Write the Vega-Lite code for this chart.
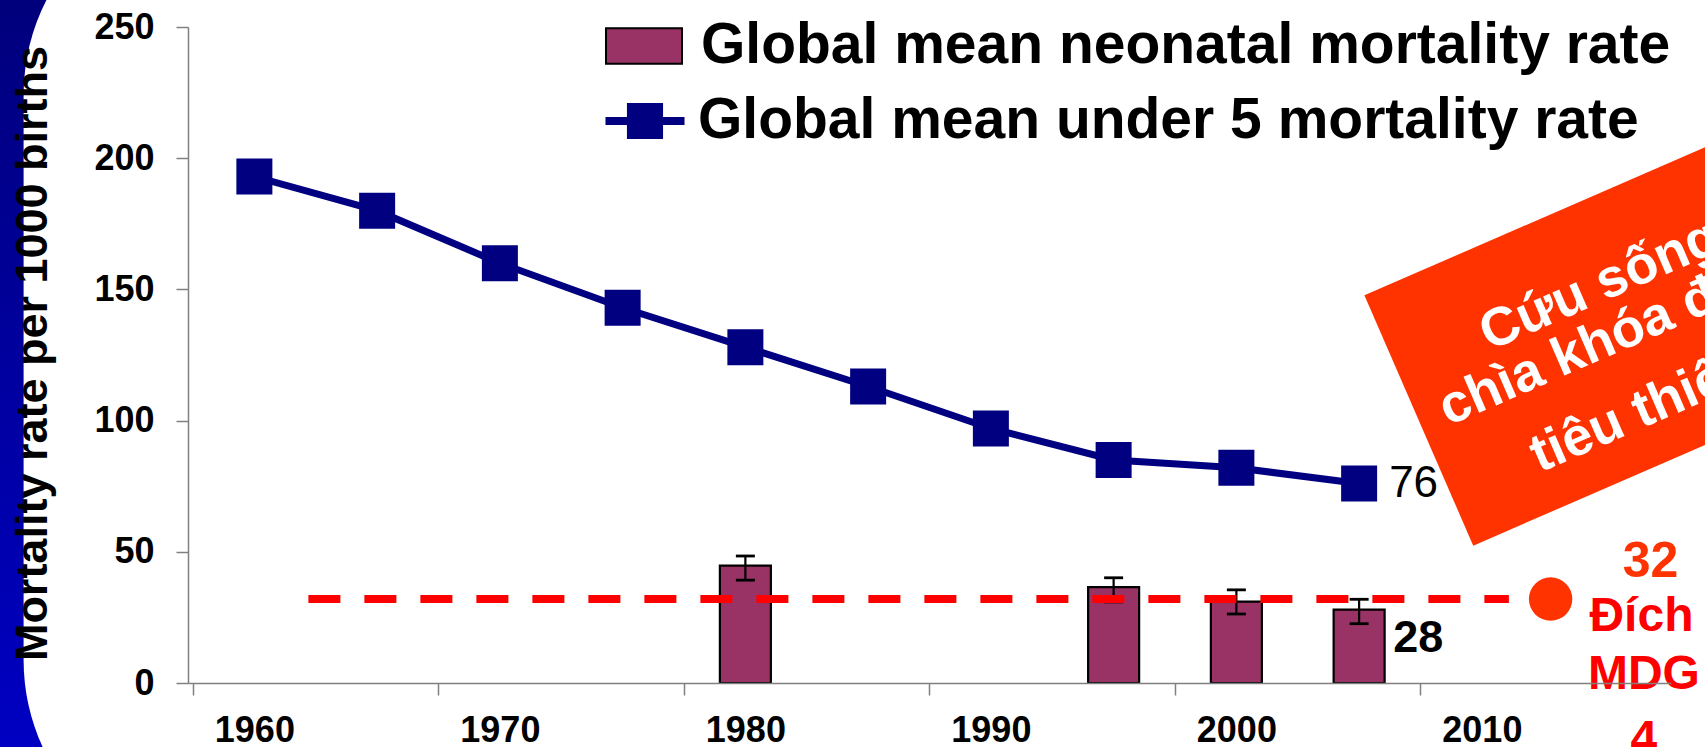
{
  "$schema": "https://vega.github.io/schema/vega-lite/v6.json",
  "width": 1483,
  "height": 656,
  "autosize": {"type": "none"},
  "padding": {"left": 188, "top": 27, "right": 34, "bottom": 64},
  "background": "white",
  "config": {
    "view": {"stroke": null},
    "font": "Liberation Sans, Arial, sans-serif",
    "axis": {
      "grid": false,
      "domainColor": "#808080",
      "domainWidth": 1.5,
      "tickColor": "#808080",
      "tickWidth": 1.5,
      "tickSize": 12,
      "labelFont": "Liberation Sans, Arial, sans-serif",
      "labelFontWeight": "bold",
      "labelFontSize": 36,
      "labelColor": "black",
      "labelFlush": false,
      "labelBound": false,
      "labelOverlap": false
    },
    "legend": {
      "orient": "none",
      "title": null,
      "padding": 0,
      "zindex": 1,
      "labelFont": "Liberation Sans, Arial, sans-serif",
      "labelFontSize": 57,
      "labelFontWeight": "bold",
      "labelColor": "black",
      "labelLimit": 2000,
      "labelOffset": 18,
      "symbolSize": 5776
    }
  },
  "datasets": {
    "under5": [
      {"year": 1960, "rate": 193},
      {"year": 1965, "rate": 180},
      {"year": 1970, "rate": 160},
      {"year": 1975, "rate": 143},
      {"year": 1980, "rate": 128},
      {"year": 1985, "rate": 113},
      {"year": 1990, "rate": 97},
      {"year": 1995, "rate": 85},
      {"year": 2000, "rate": 82},
      {"year": 2005, "rate": 76}
    ],
    "neonatal": [
      {"year": 1980, "rate": 44.7, "low": 39.2, "high": 48.4},
      {"year": 1995, "rate": 36.5, "low": 30.9, "high": 40.1},
      {"year": 2000, "rate": 31, "low": 26.3, "high": 35.5},
      {"year": 2005, "rate": 28, "low": 22.6, "high": 31.9}
    ],
    "target": [
      {"from": 1962.2, "to": 2011.1, "year": 2012.8, "rate": 32}
    ],
    "mdg_note": [
      {"line": "Đích", "year": 2016.5, "rate": 25.2},
      {"line": "MDG", "year": 2016.6, "rate": 2.9},
      {"line": "4", "year": 2016.6, "rate": -21.8}
    ],
    "callout_box": [
      {"year": 2022.0, "rate": 159.3}
    ],
    "callout_text": [
      {"line": "Cứu sống trẻ sơ sinh là", "year": 2010.3, "rate": 126.5},
      {"line": "chìa khóa để đạt mục", "year": 2008.63, "rate": 97.9},
      {"line": "tiêu thiên niên kỷ 4", "year": 2012.36, "rate": 80.1}
    ]
  },
  "resolve": {"scale": {"fill": "independent"}, "legend": {"fill": "independent"}},
  "layer": [
    {
      "data": {"values": [{}]},
      "mark": {
        "type": "rect",
        "fill": {
          "gradient": "linear",
          "x1": 0, "y1": 0, "x2": 0, "y2": 1,
          "stops": [
            {"offset": 0, "color": "#00007A"},
            {"offset": 1, "color": "#0000C4"}
          ]
        }
      },
      "encoding": {
        "x": {"datum": 1940, "type": "quantitative", "scale": {"domain": [1957.5, 2017.5], "nice": false, "zero": false}},
        "x2": {"datum": 1952.5},
        "y": {"datum": 270, "type": "quantitative", "scale": {"domain": [0, 250], "nice": false}},
        "y2": {"datum": -30}
      }
    },
    {
      "data": {"values": [{}]},
      "mark": {"type": "rect", "fill": "white", "cornerRadius": 208},
      "encoding": {
        "x": {"datum": 1950.6, "type": "quantitative"},
        "x2": {"datum": 2060},
        "y": {"datum": 303.4, "type": "quantitative"},
        "y2": {"datum": -70.5}
      }
    },
    {
      "data": {"name": "neonatal"},
      "mark": {"type": "bar", "width": 51, "stroke": "black", "strokeWidth": 2.2, "opacity": 1},
      "encoding": {
        "x": {
          "field": "year",
          "type": "quantitative",
          "scale": {"domain": [1957.5, 2017.5], "nice": false, "zero": false},
          "axis": {
            "zindex": 1,
            "title": null,
            "values": [1960, 1970, 1980, 1990, 2000, 2010, 2020],
            "format": "d",
            "tickOffset": -61.79,
            "labelOffset": 61.79,
            "labelExpr": "datum.value > 2015 ? '' : datum.label",
            "labelPadding": 18
          }
        },
        "y": {
          "field": "rate",
          "type": "quantitative",
          "scale": {"domain": [0, 250], "nice": false},
          "axis": {
            "zindex": 1,
            "values": [0, 50, 100, 150, 200, 250],
            "labelPadding": 22,
            "title": "Mortality rate per 1000 births",
            "titleFont": "Liberation Sans, Arial, sans-serif",
            "titleFontSize": 45,
            "titleFontWeight": "bold",
            "titleColor": "black",
            "titleAngle": -90,
            "titleBaseline": "alphabetic",
            "titleAlign": "center",
            "titleX": -142,
            "titleY": 326
          }
        },
        "fill": {
          "datum": "Global mean neonatal mortality rate",
          "type": "nominal",
          "scale": {"domain": ["Global mean neonatal mortality rate"], "range": ["#993366"]},
          "legend": {
            "legendX": 417,
            "legendY": -20,
            "symbolType": "M-1,-0.47H1V0.47H-1Z",
            "symbolStrokeColor": "black",
            "symbolStrokeWidth": 2,
            "symbolFillColor": "#993366",
            "encode": {
              "symbols": {
                "stroke": {"value": "black"},
                "strokeWidth": {"value": 2},
                "opacity": {"value": 1}
              }
            }
          }
        }
      }
    },
    {
      "data": {"name": "neonatal"},
      "mark": {"type": "rule", "color": "black", "strokeWidth": 2.2},
      "encoding": {
        "x": {"field": "year", "type": "quantitative"},
        "y": {"field": "low", "type": "quantitative"},
        "y2": {"field": "high"}
      }
    },
    {
      "data": {"name": "neonatal"},
      "mark": {"type": "tick", "orient": "horizontal", "color": "black", "size": 19, "thickness": 2.8, "opacity": 1},
      "encoding": {
        "x": {"field": "year", "type": "quantitative"},
        "y": {"field": "low", "type": "quantitative"}
      }
    },
    {
      "data": {"name": "neonatal"},
      "mark": {"type": "tick", "orient": "horizontal", "color": "black", "size": 19, "thickness": 2.8, "opacity": 1},
      "encoding": {
        "x": {"field": "year", "type": "quantitative"},
        "y": {"field": "high", "type": "quantitative"}
      }
    },
    {
      "data": {"name": "under5"},
      "mark": {"type": "line", "strokeWidth": 7, "color": "#000080"},
      "encoding": {
        "x": {"field": "year", "type": "quantitative"},
        "y": {"field": "rate", "type": "quantitative"}
      }
    },
    {
      "data": {"name": "under5"},
      "mark": {"type": "point", "shape": "square", "size": 1296, "filled": true, "opacity": 1},
      "encoding": {
        "x": {"field": "year", "type": "quantitative"},
        "y": {"field": "rate", "type": "quantitative"},
        "fill": {
          "datum": "Global mean under 5 mortality rate",
          "type": "nominal",
          "scale": {"domain": ["Global mean under 5 mortality rate"], "range": ["#000080"]},
          "legend": {
            "legendX": 415,
            "legendY": 52,
            "labelOffset": 11,
            "symbolType": "M-1.04,0H1.04M-0.37,-0.37H0.37V0.37H-0.37Z",
            "symbolStrokeColor": "#000080",
            "symbolStrokeWidth": 8,
            "symbolFillColor": "#000080",
            "encode": {
              "symbols": {
                "stroke": {"value": "#000080"},
                "strokeWidth": {"value": 8},
                "strokeCap": {"value": "round"},
                "opacity": {"value": 1}
              }
            }
          }
        }
      }
    },
    {
      "data": {"name": "under5"},
      "transform": [{"filter": "datum.year === 2005"}],
      "mark": {"type": "text", "align": "left", "baseline": "middle", "dx": 30, "fontSize": 44, "fontWeight": "normal", "color": "black"},
      "encoding": {
        "x": {"field": "year", "type": "quantitative"},
        "y": {"field": "rate", "type": "quantitative"},
        "text": {"field": "rate", "type": "quantitative", "format": "d"}
      }
    },
    {
      "data": {"name": "neonatal"},
      "transform": [{"filter": "datum.year === 2005"}],
      "mark": {"type": "text", "align": "left", "baseline": "middle", "dx": 34, "dy": 28, "fontSize": 45, "fontWeight": "bold", "color": "black"},
      "encoding": {
        "x": {"field": "year", "type": "quantitative"},
        "y": {"field": "rate", "type": "quantitative"},
        "text": {"field": "rate", "type": "quantitative", "format": "d"}
      }
    },
    {
      "data": {"name": "target"},
      "mark": {"type": "rule", "color": "#FF0000", "strokeWidth": 8, "strokeDash": [32, 24]},
      "encoding": {
        "x": {"field": "from", "type": "quantitative"},
        "x2": {"field": "to"},
        "y": {"field": "rate", "type": "quantitative"}
      }
    },
    {
      "data": {"name": "target"},
      "mark": {"type": "point", "shape": "circle", "filled": true, "size": 1886, "color": "#FF3300", "opacity": 1},
      "encoding": {
        "x": {"field": "year", "type": "quantitative"},
        "y": {"field": "rate", "type": "quantitative"}
      }
    },
    {
      "data": {"name": "target"},
      "mark": {"type": "text", "align": "center", "baseline": "middle", "dx": 100, "dy": -37, "fontSize": 50, "fontWeight": "bold", "color": "#FF3300"},
      "encoding": {
        "x": {"field": "year", "type": "quantitative"},
        "y": {"field": "rate", "type": "quantitative"},
        "text": {"field": "rate", "type": "quantitative", "format": "d"}
      }
    },
    {
      "data": {"name": "mdg_note"},
      "mark": {"type": "text", "align": "center", "baseline": "middle", "fontSize": 48, "fontWeight": "bold", "color": "#FF0000"},
      "encoding": {
        "x": {"field": "year", "type": "quantitative"},
        "y": {"field": "rate", "type": "quantitative"},
        "text": {"field": "line", "type": "nominal"}
      }
    },
    {
      "data": {"name": "callout_box"},
      "mark": {"type": "point", "shape": "M-1,-0.35H1V0.35H-1Z", "size": 608400, "angle": -23.5, "filled": true, "color": "#FF3300", "opacity": 1, "strokeWidth": 0},
      "encoding": {
        "x": {"field": "year", "type": "quantitative"},
        "y": {"field": "rate", "type": "quantitative"}
      }
    },
    {
      "data": {"name": "callout_text"},
      "mark": {"type": "text", "align": "left", "baseline": "alphabetic", "angle": -23.5, "fontSize": 54, "fontWeight": "bold", "color": "white"},
      "encoding": {
        "x": {"field": "year", "type": "quantitative"},
        "y": {"field": "rate", "type": "quantitative"},
        "text": {"field": "line", "type": "nominal"}
      }
    }
  ]
}
